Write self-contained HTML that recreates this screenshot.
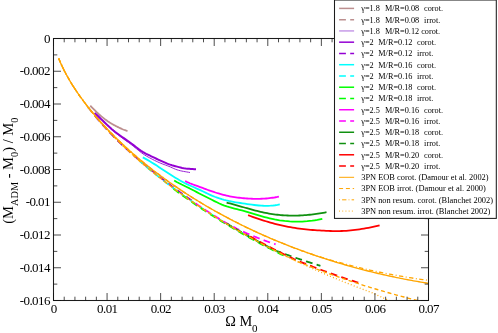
<!DOCTYPE html>
<html><head><meta charset="utf-8"><title>Binding energy</title>
<style>
html,body{margin:0;padding:0;background:#fff;}
body{width:498px;height:333px;overflow:hidden;position:relative;font-family:"Liberation Serif",serif;}
svg text{font-family:"Liberation Serif",serif;}
</style></head><body>
<svg width="498" height="333" viewBox="0 0 498 333" style="position:absolute;left:0;top:0;will-change:transform">
<rect width="498" height="333" fill="#fff"/>
<defs><clipPath id="cp"><rect x="53.5" y="38.5" width="375.0" height="262.0"/></clipPath></defs>
<g clip-path="url(#cp)" fill="none" stroke-linecap="butt" stroke-linejoin="round">
<path d="M90.30,105.70 L90.93,106.36 L91.56,107.02 L92.20,107.67 L92.83,108.32 L93.46,108.96 L94.09,109.59 L94.73,110.22 L95.36,110.84 L95.99,111.45 L96.62,112.06 L97.25,112.65 L97.89,113.24 L98.52,113.83 L99.15,114.40 L99.78,114.97 L100.42,115.52 L101.05,116.07 L101.68,116.61 L102.31,117.14 L102.94,117.66 L103.58,118.17 L104.21,118.67 L104.84,119.16 L105.47,119.63 L106.11,120.10 L106.74,120.56 L107.37,121.01 L108.00,121.44 L108.63,121.87 L109.27,122.28 L109.90,122.68 L110.53,123.07 L111.16,123.45 L111.79,123.82 L112.43,124.18 L113.06,124.53 L113.69,124.87 L114.32,125.21 L114.96,125.55 L115.59,125.88 L116.22,126.21 L116.85,126.53 L117.48,126.85 L118.12,127.17 L118.75,127.48 L119.38,127.79 L120.01,128.09 L120.65,128.39 L121.28,128.68 L121.91,128.96 L122.54,129.23 L123.17,129.50 L123.81,129.75 L124.44,129.99 L125.07,130.22 L125.70,130.44 L126.34,130.64 L126.97,130.83 L127.60,131.00" stroke="#bc8f8f" stroke-width="1.8"/>
<path d="M88.00,107.22 L88.47,107.82 L88.94,108.42 L89.41,109.01 L89.87,109.60 L90.34,110.19 L90.81,110.77 L91.28,111.35 L91.75,111.93 L92.22,112.51 L92.68,113.08 L93.15,113.65 L93.62,114.22 L94.09,114.78 L94.56,115.34 L95.03,115.90 L95.49,116.46 L95.96,117.02 L96.43,117.57 L96.90,118.12 L97.37,118.67 L97.84,119.21 L98.30,119.75 L98.77,120.30 L99.24,120.83 L99.71,121.37 L100.18,121.90 L100.65,122.44 L101.11,122.97 L101.58,123.49 L102.05,124.02 L102.52,124.54 L102.99,125.06 L103.46,125.58 L103.92,126.10 L104.39,126.62 L104.86,127.13 L105.33,127.64 L105.80,128.15 L106.27,128.66 L106.73,129.17 L107.20,129.67 L107.67,130.17 L108.14,130.68 L108.61,131.17 L109.08,131.67 L109.54,132.17 L110.01,132.66 L110.48,133.15 L110.95,133.64 L111.42,134.13 L111.89,134.62 L112.35,135.10 L112.82,135.59 L113.29,136.07 L113.76,136.55 L114.23,137.03 L114.70,137.51 L115.16,137.98 L115.63,138.46 L116.10,138.93 L116.57,139.40 L117.04,139.87 L117.51,140.34 L117.97,140.81 L118.44,141.27 L118.91,141.74 L119.38,142.20 L119.85,142.66 L120.32,143.12 L120.78,143.58 L121.25,144.04 L121.72,144.49 L122.19,144.95 L122.66,145.40 L123.13,145.85 L123.59,146.30 L124.06,146.75 L124.53,147.20 L125.00,147.64" stroke="#bc8f8f" stroke-width="1.8" stroke-dasharray="6.8,4.3"/>
<path d="M94.60,113.50 L96.22,114.92 L97.83,116.39 L99.45,117.92 L101.07,119.47 L102.68,121.05 L104.30,122.63 L105.92,124.22 L107.54,125.78 L109.15,127.32 L110.77,128.82 L112.39,130.26 L114.00,131.65 L115.62,132.98 L117.24,134.26 L118.85,135.50 L120.47,136.71 L122.09,137.90 L123.71,139.07 L125.32,140.24 L126.94,141.40 L128.56,142.57 L130.17,143.77 L131.79,144.99 L133.41,146.25 L135.02,147.55 L136.64,148.89 L138.26,150.22 L139.87,151.53 L141.49,152.78 L143.11,153.94 L144.73,155.01 L146.34,156.00 L147.96,156.92 L149.58,157.81 L151.19,158.67 L152.81,159.51 L154.43,160.33 L156.04,161.12 L157.66,161.88 L159.28,162.61 L160.89,163.30 L162.51,163.94 L164.13,164.55 L165.75,165.14 L167.36,165.74 L168.98,166.37 L170.60,167.06 L172.21,167.81 L173.83,168.56 L175.45,169.24 L177.06,169.82 L178.68,170.31 L180.30,170.73 L181.92,171.09 L183.53,171.40 L185.15,171.68 L186.77,171.95 L188.38,172.22 L190.00,172.50" stroke="#9a20d6" stroke-width="1.0"/>
<path d="M94.60,113.00 L96.32,114.51 L98.04,116.08 L99.76,117.71 L101.47,119.37 L103.19,121.05 L104.91,122.73 L106.63,124.39 L108.35,126.03 L110.07,127.62 L111.79,129.14 L113.51,130.59 L115.22,131.96 L116.94,133.27 L118.66,134.54 L120.38,135.76 L122.10,136.97 L123.82,138.16 L125.54,139.36 L127.25,140.57 L128.97,141.80 L130.69,143.04 L132.41,144.32 L134.13,145.62 L135.85,146.96 L137.57,148.29 L139.28,149.59 L141.00,150.81 L142.72,151.93 L144.44,152.92 L146.16,153.82 L147.88,154.66 L149.60,155.47 L151.32,156.28 L153.03,157.09 L154.75,157.91 L156.47,158.73 L158.19,159.54 L159.91,160.35 L161.63,161.15 L163.35,161.93 L165.06,162.68 L166.78,163.40 L168.50,164.07 L170.22,164.67 L171.94,165.21 L173.66,165.70 L175.38,166.18 L177.09,166.64 L178.81,167.10 L180.53,167.52 L182.25,167.90 L183.97,168.22 L185.69,168.47 L187.41,168.68 L189.13,168.83 L190.84,168.96 L192.56,169.05 L194.28,169.13 L196.00,169.20" stroke="#9400d3" stroke-width="2.0"/>
<path d="M94.50,115.28 L95.75,116.76 L96.99,118.23 L98.24,119.68 L99.49,121.12 L100.73,122.54 L101.98,123.94 L103.23,125.33 L104.47,126.71 L105.72,128.07 L106.97,129.42 L108.22,130.76 L109.46,132.08 L110.71,133.39 L111.96,134.69 L113.20,135.98 L114.45,137.26 L115.70,138.52 L116.94,139.78 L118.19,141.02 L119.44,142.26 L120.68,143.46 L121.93,144.64 L123.18,145.81 L124.42,146.98 L125.67,148.13 L126.92,149.27 L128.16,150.41 L129.41,151.54 L130.66,152.65 L131.91,153.76 L133.15,154.87 L134.40,155.96 L135.65,157.04 L136.89,158.12 L138.14,159.19 L139.39,160.26 L140.63,161.31 L141.88,162.36 L143.13,163.40 L144.37,164.44 L145.62,165.46 L146.87,166.48 L148.11,167.50 L149.36,168.51 L150.61,169.52 L151.85,170.55 L153.10,171.57 L154.35,172.59 L155.59,173.60 L156.84,174.60 L158.09,175.60 L159.34,176.59 L160.58,177.58 L161.83,178.56 L163.08,179.53 L164.32,180.50 L165.57,181.46 L166.82,182.42 L168.06,183.37 L169.31,184.32 L170.56,185.26 L171.80,186.20 L173.05,187.13 L174.30,188.06 L175.54,188.98 L176.79,189.90 L178.04,190.81 L179.28,191.72 L180.53,192.62 L181.78,193.52 L183.03,194.41 L184.27,195.30 L185.52,196.18 L186.77,197.06 L188.01,197.94 L189.26,198.81 L190.51,199.67 L191.75,200.53 L193.00,201.39" stroke="#9400d3" stroke-width="1.8" stroke-dasharray="6.8,4.3" stroke-dashoffset="10.35"/>
<path d="M142.80,157.40 L145.12,158.62 L147.44,159.91 L149.77,161.26 L152.09,162.67 L154.41,164.12 L156.73,165.61 L159.05,167.13 L161.38,168.66 L163.70,170.20 L166.02,171.74 L168.34,173.27 L170.66,174.77 L172.99,176.25 L175.31,177.69 L177.63,179.09 L179.95,180.44 L182.27,181.73 L184.60,182.96 L186.92,184.13 L189.24,185.23 L191.56,186.28 L193.88,187.29 L196.21,188.30 L198.53,189.33 L200.85,190.40 L203.17,191.52 L205.49,192.65 L207.82,193.77 L210.14,194.83 L212.46,195.84 L214.78,196.78 L217.11,197.65 L219.43,198.46 L221.75,199.20 L224.07,199.87 L226.39,200.46 L228.72,200.99 L231.04,201.46 L233.36,201.89 L235.68,202.28 L238.00,202.65 L240.33,203.00 L242.65,203.35 L244.97,203.71 L247.29,204.05 L249.61,204.39 L251.94,204.71 L254.26,205.00 L256.58,205.26 L258.90,205.48 L261.22,205.65 L263.55,205.77 L265.87,205.82 L268.19,205.81 L270.51,205.71 L272.83,205.53 L275.16,205.25 L277.48,204.88 L279.80,204.40" stroke="#00ffff" stroke-width="1.8"/>
<path d="M140.00,161.31 L141.75,162.83 L143.49,164.33 L145.24,165.82 L146.99,167.30 L148.73,168.77 L150.48,170.22 L152.23,171.66 L153.97,173.09 L155.72,174.50 L157.47,175.90 L159.22,177.29 L160.96,178.68 L162.71,180.04 L164.46,181.40 L166.20,182.75 L167.95,184.09 L169.70,185.41 L171.44,186.73 L173.19,188.04 L174.94,189.33 L176.68,190.62 L178.43,191.90 L180.18,193.16 L181.92,194.42 L183.67,195.67 L185.42,196.91 L187.16,198.14 L188.91,199.36 L190.66,200.58 L192.41,201.78 L194.15,202.98 L195.90,204.17 L197.65,205.35 L199.39,206.52 L201.14,207.68 L202.89,208.84 L204.63,209.99 L206.38,211.13 L208.13,212.26 L209.87,213.39 L211.62,214.50 L213.37,215.61 L215.11,216.72 L216.86,217.81 L218.61,218.90 L220.35,219.99 L222.10,221.06 L223.85,222.13 L225.59,223.19 L227.34,224.24 L229.09,225.29 L230.84,226.33 L232.58,227.37 L234.33,228.40 L236.08,229.42 L237.82,230.43 L239.57,231.44 L241.32,232.44 L243.06,233.44 L244.81,234.43 L246.56,235.42 L248.30,236.39 L250.05,237.37 L251.80,238.33 L253.54,239.29 L255.29,240.25 L257.04,241.20 L258.78,242.14 L260.53,243.08 L262.28,244.01 L264.03,244.93 L265.77,245.85 L267.52,246.77 L269.27,247.68 L271.01,248.58 L272.76,249.48 L274.51,250.38 L276.25,251.26 L278.00,252.15" stroke="#00ffff" stroke-width="1.8" stroke-dasharray="6.8,4.3" stroke-dashoffset="3"/>
<path d="M174.20,180.40 L176.71,181.94 L179.22,183.30 L181.73,184.56 L184.24,185.75 L186.75,186.94 L189.26,188.18 L191.77,189.49 L194.28,190.82 L196.79,192.16 L199.30,193.47 L201.81,194.75 L204.32,196.01 L206.83,197.26 L209.34,198.53 L211.85,199.81 L214.36,201.08 L216.87,202.31 L219.38,203.49 L221.89,204.59 L224.40,205.58 L226.91,206.45 L229.42,207.22 L231.93,207.91 L234.44,208.56 L236.95,209.17 L239.46,209.78 L241.97,210.42 L244.48,211.09 L246.99,211.80 L249.51,212.54 L252.02,213.31 L254.53,214.08 L257.04,214.85 L259.55,215.61 L262.06,216.36 L264.57,217.07 L267.08,217.74 L269.59,218.36 L272.10,218.93 L274.61,219.45 L277.12,219.91 L279.63,220.32 L282.14,220.67 L284.65,220.97 L287.16,221.21 L289.67,221.41 L292.18,221.54 L294.69,221.62 L297.20,221.65 L299.71,221.62 L302.22,221.54 L304.73,221.40 L307.24,221.21 L309.75,220.96 L312.26,220.66 L314.77,220.30 L317.28,219.89 L319.79,219.42 L322.30,218.90" stroke="#00ff00" stroke-width="1.8"/>
<path d="M172.00,187.75 L173.42,188.81 L174.84,189.86 L176.25,190.90 L177.67,191.94 L179.09,192.97 L180.51,194.00 L181.92,195.02 L183.34,196.04 L184.76,197.04 L186.18,198.05 L187.59,199.04 L189.01,200.03 L190.43,201.02 L191.85,202.00 L193.27,202.97 L194.68,203.94 L196.10,204.90 L197.52,205.86 L198.94,206.81 L200.35,207.76 L201.77,208.70 L203.19,209.64 L204.61,210.57 L206.03,211.50 L207.44,212.42 L208.86,213.33 L210.28,214.25 L211.70,215.15 L213.11,216.05 L214.53,216.95 L215.95,217.84 L217.37,218.73 L218.78,219.61 L220.20,220.49 L221.62,221.36 L223.04,222.23 L224.46,223.10 L225.87,223.96 L227.29,224.81 L228.71,225.66 L230.13,226.51 L231.54,227.35 L232.96,228.19 L234.38,229.03 L235.80,229.85 L237.22,230.68 L238.63,231.50 L240.05,232.32 L241.47,233.13 L242.89,233.94 L244.30,234.74 L245.72,235.55 L247.14,236.34 L248.56,237.13 L249.97,237.92 L251.39,238.71 L252.81,239.49 L254.23,240.27 L255.65,241.04 L257.06,241.81 L258.48,242.58 L259.90,243.34 L261.32,244.10 L262.73,244.85 L264.15,245.60 L265.57,246.35 L266.99,247.09 L268.41,247.83 L269.82,248.57 L271.24,249.30 L272.66,250.03 L274.08,250.76 L275.49,251.48 L276.91,252.20 L278.33,252.91 L279.75,253.62 L281.16,254.33 L282.58,255.04 L284.00,255.74" stroke="#00ff00" stroke-width="1.8" stroke-dasharray="6.8,4.3" stroke-dashoffset="9.19"/>
<path d="M185.10,181.00 L186.69,181.81 L188.28,182.55 L189.87,183.25 L191.46,183.89 L193.05,184.50 L194.64,185.09 L196.23,185.66 L197.82,186.22 L199.41,186.79 L201.00,187.36 L202.59,187.95 L204.18,188.54 L205.77,189.14 L207.36,189.73 L208.95,190.31 L210.54,190.87 L212.13,191.43 L213.72,191.97 L215.31,192.49 L216.90,192.99 L218.49,193.48 L220.08,193.95 L221.67,194.39 L223.26,194.82 L224.85,195.22 L226.44,195.60 L228.03,195.95 L229.62,196.28 L231.21,196.58 L232.79,196.86 L234.38,197.12 L235.97,197.35 L237.56,197.57 L239.15,197.76 L240.74,197.94 L242.33,198.10 L243.92,198.24 L245.51,198.37 L247.10,198.49 L248.69,198.58 L250.28,198.67 L251.87,198.74 L253.46,198.79 L255.05,198.82 L256.64,198.84 L258.23,198.83 L259.82,198.80 L261.41,198.76 L263.00,198.69 L264.59,198.60 L266.18,198.48 L267.77,198.34 L269.36,198.17 L270.95,197.98 L272.54,197.76 L274.13,197.52 L275.72,197.24 L277.31,196.94 L278.90,196.60" stroke="#ff00ff" stroke-width="1.8"/>
<path d="M194.00,202.37 L195.03,203.08 L196.07,203.78 L197.10,204.48 L198.13,205.17 L199.16,205.87 L200.20,206.56 L201.23,207.24 L202.26,207.93 L203.30,208.61 L204.33,209.29 L205.36,209.96 L206.39,210.64 L207.43,211.31 L208.46,211.98 L209.49,212.64 L210.53,213.31 L211.56,213.97 L212.59,214.62 L213.63,215.28 L214.66,215.93 L215.69,216.58 L216.72,217.23 L217.76,217.87 L218.79,218.52 L219.82,219.16 L220.86,219.79 L221.89,220.43 L222.92,221.06 L223.95,221.69 L224.99,222.32 L226.02,222.93 L227.05,223.52 L228.09,224.10 L229.12,224.67 L230.15,225.23 L231.18,225.78 L232.22,226.32 L233.25,226.86 L234.28,227.39 L235.32,227.91 L236.35,228.43 L237.38,228.94 L238.42,229.44 L239.45,229.94 L240.48,230.43 L241.51,230.92 L242.55,231.40 L243.58,231.88 L244.61,232.35 L245.65,232.81 L246.68,233.27 L247.71,233.73 L248.74,234.18 L249.78,234.62 L250.81,235.06 L251.84,235.50 L252.88,235.93 L253.91,236.35 L254.94,236.78 L255.97,237.19 L257.01,237.61 L258.04,238.01 L259.07,238.42 L260.11,238.82 L261.14,239.21 L262.17,239.61 L263.21,239.99 L264.24,240.38 L265.27,240.75 L266.30,241.13 L267.34,241.50 L268.37,241.87 L269.40,242.23 L270.44,242.59 L271.47,242.94 L272.50,243.29 L273.53,243.64 L274.57,243.98 L275.60,244.32" stroke="#ff00ff" stroke-width="1.8" stroke-dasharray="6.8,4.3" stroke-dashoffset="9.33"/>
<path d="M226.60,202.60 L228.29,203.03 L229.99,203.47 L231.68,203.92 L233.37,204.38 L235.07,204.85 L236.76,205.32 L238.45,205.80 L240.15,206.28 L241.84,206.77 L243.53,207.25 L245.23,207.74 L246.92,208.22 L248.61,208.69 L250.31,209.17 L252.00,209.63 L253.69,210.09 L255.38,210.53 L257.08,210.97 L258.77,211.39 L260.46,211.79 L262.16,212.18 L263.85,212.55 L265.54,212.91 L267.24,213.24 L268.93,213.55 L270.62,213.84 L272.32,214.10 L274.01,214.34 L275.70,214.56 L277.40,214.76 L279.09,214.94 L280.78,215.10 L282.48,215.23 L284.17,215.35 L285.86,215.44 L287.56,215.51 L289.25,215.57 L290.94,215.60 L292.64,215.61 L294.33,215.61 L296.02,215.59 L297.72,215.54 L299.41,215.48 L301.10,215.40 L302.79,215.31 L304.49,215.19 L306.18,215.06 L307.87,214.91 L309.57,214.74 L311.26,214.56 L312.95,214.36 L314.65,214.14 L316.34,213.91 L318.03,213.66 L319.73,213.40 L321.42,213.12 L323.11,212.83 L324.81,212.52 L326.50,212.20" stroke="#109010" stroke-width="1.8"/>
<path d="M226.00,223.13 L227.19,223.86 L228.39,224.57 L229.58,225.29 L230.78,226.00 L231.97,226.71 L233.17,227.41 L234.36,228.12 L235.56,228.82 L236.75,229.51 L237.95,230.21 L239.14,230.90 L240.34,231.58 L241.53,232.27 L242.73,232.95 L243.92,233.63 L245.12,234.31 L246.31,234.98 L247.51,235.65 L248.70,236.32 L249.90,236.98 L251.09,237.64 L252.29,238.30 L253.48,238.96 L254.68,239.61 L255.87,240.26 L257.07,240.91 L258.26,241.56 L259.46,242.20 L260.65,242.84 L261.85,243.48 L263.04,244.11 L264.24,244.75 L265.43,245.38 L266.63,246.00 L267.82,246.63 L269.02,247.25 L270.21,247.87 L271.41,248.49 L272.60,249.10 L273.80,249.71 L274.99,250.32 L276.19,250.78 L277.38,251.22 L278.58,251.67 L279.77,252.12 L280.97,252.56 L282.16,253.00 L283.36,253.43 L284.55,253.87 L285.75,254.30 L286.94,254.73 L288.14,255.16 L289.33,255.58 L290.53,256.01 L291.72,256.43 L292.92,256.85 L294.11,257.26 L295.31,257.67 L296.50,258.09 L297.70,258.49 L298.89,258.90 L300.09,259.31 L301.28,259.71 L302.48,260.11 L303.67,260.51 L304.87,260.90 L306.06,261.29 L307.26,261.69 L308.45,262.07 L309.65,262.46 L310.84,262.84 L312.04,263.23 L313.23,263.61 L314.43,263.99 L315.62,264.36 L316.82,264.73 L318.01,265.11 L319.21,265.48 L320.40,265.84" stroke="#109010" stroke-width="1.8" stroke-dasharray="6.8,4.3" stroke-dashoffset="10.95"/>
<path d="M248.10,215.20 L250.33,216.02 L252.56,216.82 L254.79,217.61 L257.02,218.38 L259.24,219.13 L261.47,219.86 L263.70,220.56 L265.93,221.25 L268.16,221.92 L270.39,222.56 L272.62,223.18 L274.85,223.78 L277.07,224.35 L279.30,224.90 L281.53,225.42 L283.76,225.91 L285.99,226.38 L288.22,226.82 L290.45,227.23 L292.68,227.61 L294.91,227.97 L297.13,228.31 L299.36,228.62 L301.59,228.90 L303.82,229.16 L306.05,229.39 L308.28,229.61 L310.51,229.80 L312.74,229.98 L314.96,230.14 L317.19,230.29 L319.42,230.43 L321.65,230.56 L323.88,230.69 L326.11,230.80 L328.34,230.91 L330.57,230.99 L332.79,231.06 L335.02,231.10 L337.25,231.11 L339.48,231.08 L341.71,231.02 L343.94,230.92 L346.17,230.78 L348.40,230.62 L350.63,230.42 L352.85,230.19 L355.08,229.93 L357.31,229.64 L359.54,229.32 L361.77,228.97 L364.00,228.60 L366.23,228.20 L368.46,227.77 L370.68,227.32 L372.91,226.85 L375.14,226.35 L377.37,225.84 L379.60,225.30" stroke="#ff0000" stroke-width="1.8"/>
<path d="M246.00,234.20 L247.42,235.00 L248.85,235.80 L250.27,236.59 L251.70,237.38 L253.12,238.16 L254.54,238.94 L255.97,239.72 L257.39,240.49 L258.82,241.26 L260.24,242.02 L261.66,242.78 L263.09,243.54 L264.51,244.29 L265.94,245.04 L267.36,245.79 L268.78,246.53 L270.21,247.27 L271.63,248.00 L273.06,248.73 L274.48,249.46 L275.91,250.19 L277.33,250.91 L278.75,251.63 L280.18,252.34 L281.60,253.05 L283.03,253.76 L284.45,254.46 L285.87,255.16 L287.30,255.86 L288.72,256.55 L290.15,257.24 L291.57,257.93 L292.99,258.61 L294.42,259.29 L295.84,259.92 L297.27,260.50 L298.69,261.08 L300.11,261.66 L301.54,262.24 L302.96,262.81 L304.39,263.38 L305.81,263.95 L307.23,264.51 L308.66,265.07 L310.08,265.63 L311.51,266.18 L312.93,266.73 L314.35,267.28 L315.78,267.82 L317.20,268.37 L318.63,268.90 L320.05,269.44 L321.47,269.97 L322.90,270.50 L324.32,271.03 L325.75,271.55 L327.17,272.07 L328.59,272.59 L330.02,273.10 L331.44,273.62 L332.87,274.13 L334.29,274.63 L335.72,275.14 L337.14,275.64 L338.56,276.13 L339.99,276.63 L341.41,277.12 L342.84,277.61 L344.26,278.10 L345.68,278.58 L347.11,279.06 L348.53,279.54 L349.96,280.01 L351.38,280.49 L352.80,280.96 L354.23,281.42 L355.65,281.89 L357.08,282.35 L358.50,282.81" stroke="#ff0000" stroke-width="1.8" stroke-dasharray="6.8,4.3" stroke-dashoffset="6.33"/>
<path d="M58.70,58.40 L60.56,62.85 L62.41,66.90 L64.27,70.66 L66.13,74.19 L67.99,77.54 L69.84,80.74 L71.70,83.81 L73.56,86.77 L75.42,89.62 L77.27,92.38 L79.13,95.06 L80.99,97.67 L82.84,100.21 L84.70,102.69 L86.56,105.11 L88.42,107.48 L90.27,109.79 L92.13,112.06 L93.99,114.29 L95.85,116.47 L97.70,118.61 L99.56,120.72 L101.42,122.79 L103.27,124.82 L105.13,126.83 L106.99,128.80 L108.85,130.74 L110.70,132.65 L112.56,134.53 L114.42,136.39 L116.28,138.22 L118.13,140.03 L119.99,141.81 L121.85,143.57 L123.71,145.30 L125.56,147.01 L127.42,148.71 L129.28,150.38 L131.13,152.03 L132.99,153.66 L134.85,155.27 L136.71,156.86 L138.56,158.44 L140.42,159.99 L142.28,161.53 L144.14,163.05 L145.99,164.56 L147.85,166.05 L149.71,167.52 L151.56,168.98 L153.42,170.42 L155.28,171.85 L157.14,173.26 L158.99,174.66 L160.85,176.04 L162.71,177.41 L164.57,178.76 L166.42,180.10 L168.28,181.43 L170.14,182.75 L171.99,184.05 L173.85,185.34 L175.71,186.62 L177.57,187.88 L179.42,189.13 L181.28,190.37 L183.14,191.60 L185.00,192.82 L186.85,194.03 L188.71,195.22 L190.57,196.40 L192.42,197.57 L194.28,198.74 L196.14,199.89 L198.00,201.03 L199.85,202.16 L201.71,203.28 L203.57,204.38 L205.43,205.48 L207.28,206.57 L209.14,207.65 L211.00,208.72 L212.85,209.78 L214.71,210.83 L216.57,211.87 L218.43,212.90 L220.28,213.92 L222.14,214.93 L224.00,215.94 L225.86,216.93 L227.71,217.92 L229.57,218.89 L231.43,219.86 L233.28,220.82 L235.14,221.77 L237.00,222.71 L238.86,223.65 L240.71,224.57 L242.57,225.49 L244.43,226.40 L246.29,227.30 L248.14,228.19 L250.00,229.08 L251.86,229.95 L253.72,230.82 L255.57,231.68 L257.43,232.53 L259.29,233.38 L261.14,234.22 L263.00,235.05 L264.86,235.87 L266.72,236.68 L268.57,237.49 L270.43,238.29 L272.29,239.08 L274.15,239.87 L276.00,240.65 L277.86,241.42 L279.72,242.18 L281.57,242.94 L283.43,243.69 L285.29,244.43 L287.15,245.17 L289.00,245.89 L290.86,246.62 L292.72,247.33 L294.58,248.04 L296.43,248.74 L298.29,249.44 L300.15,250.13 L302.00,250.81 L303.86,251.48 L305.72,252.15 L307.58,252.81 L309.43,253.47 L311.29,254.12 L313.15,254.76 L315.01,255.40 L316.86,256.03 L318.72,256.65 L320.58,257.27 L322.43,257.88 L324.29,258.48 L326.15,259.08 L328.01,259.68 L329.86,260.26 L331.72,260.84 L333.58,261.42 L335.44,261.99 L337.29,262.55 L339.15,263.11 L341.01,263.66 L342.86,264.20 L344.72,264.74 L346.58,265.27 L348.44,265.80 L350.29,266.32 L352.15,266.84 L354.01,267.35 L355.87,267.85 L357.72,268.35 L359.58,268.84 L361.44,269.33 L363.29,269.81 L365.15,270.29 L367.01,270.76 L368.87,271.23 L370.72,271.69 L372.58,272.14 L374.44,272.59 L376.30,273.03 L378.15,273.47 L380.01,273.90 L381.87,274.33 L383.73,274.75 L385.58,275.17 L387.44,275.58 L389.30,275.99 L391.15,276.39 L393.01,276.78 L394.87,277.17 L396.73,277.56 L398.58,277.94 L400.44,278.31 L402.30,278.68 L404.16,279.05 L406.01,279.41 L407.87,279.76 L409.73,280.11 L411.58,280.46 L413.44,280.80 L415.30,281.13 L417.16,281.46 L419.01,281.78 L420.87,282.10 L422.73,282.42 L424.59,282.73 L426.44,283.03 L428.30,283.33" stroke="#ffa500" stroke-width="1.35"/>
<path d="M58.70,58.41 L61.13,64.15 L63.56,69.28 L65.99,73.98 L68.43,78.37 L70.86,82.50 L73.29,86.43 L75.72,90.19 L78.15,93.80 L80.58,97.28 L83.02,100.64 L85.45,103.90 L87.88,107.07 L90.31,110.15 L92.74,113.15 L95.17,116.08 L97.60,118.94 L100.04,121.74 L102.47,124.49 L104.90,127.17 L107.33,129.81 L109.76,132.40 L112.19,134.94 L114.63,137.44 L117.06,139.89 L119.49,142.31 L121.92,144.68 L124.35,147.03 L126.78,149.33 L129.21,151.60 L131.65,153.84 L134.08,156.05 L136.51,158.23 L138.94,160.38 L141.37,162.50 L143.80,164.60 L146.24,166.67 L148.67,168.71 L151.10,170.73 L153.53,172.72 L155.96,174.69 L158.39,176.64 L160.82,178.57 L163.26,180.47 L165.69,182.35 L168.12,184.22 L170.55,186.06 L172.98,187.88 L175.41,189.68 L177.85,191.47 L180.28,193.23 L182.71,194.98 L185.14,196.71 L187.57,198.43 L190.00,200.12 L192.43,201.80 L194.87,203.47 L197.30,205.11 L199.73,206.74 L202.16,208.36 L204.59,209.96 L207.02,211.55 L209.46,213.12 L211.89,214.67 L214.32,216.22 L216.75,217.75 L219.18,219.26 L221.61,220.76 L224.04,222.25 L226.48,223.72 L228.91,225.18 L231.34,226.63 L233.77,228.07 L236.20,229.49 L238.63,230.90 L241.07,232.30 L243.50,233.69 L245.93,235.06 L248.36,236.43 L250.79,237.78 L253.22,239.12 L255.66,240.45 L258.09,241.76 L260.52,243.07 L262.95,244.36 L265.38,245.65 L267.81,246.92 L270.24,248.19 L272.68,249.44 L275.11,250.68 L277.54,251.91 L279.97,253.14 L282.40,254.35 L284.83,255.55 L287.27,256.74 L289.70,257.92 L292.13,259.10 L294.56,260.26 L296.99,261.29 L299.42,262.28 L301.85,263.27 L304.29,264.24 L306.72,265.21 L309.15,266.16 L311.58,267.11 L314.01,268.05 L316.44,268.98 L318.88,269.90 L321.31,270.81 L323.74,271.71 L326.17,272.61 L328.60,273.49 L331.03,274.37 L333.46,275.24 L335.90,276.10 L338.33,276.95 L340.76,277.80 L343.19,278.63 L345.62,279.46 L348.05,280.28 L350.49,281.09 L352.92,281.89 L355.35,282.69 L357.78,283.48 L360.21,284.26 L362.64,285.03 L365.07,285.79 L367.51,286.55 L369.94,287.30 L372.37,288.04 L374.80,288.77 L377.23,289.50 L379.66,290.22 L382.10,290.93 L384.53,291.63 L386.96,292.33 L389.39,293.02 L391.82,293.70 L394.25,294.38 L396.68,295.05 L399.12,295.71 L401.55,296.36 L403.98,297.01 L406.41,297.65 L408.84,298.28 L411.27,298.90 L413.71,299.52 L416.14,300.13 L418.57,300.74 L421.00,301.34" stroke="#ffa500" stroke-width="1.35" stroke-dasharray="4,2.8"/>
<path d="M58.70,58.40 L60.56,62.85 L62.41,66.90 L64.27,70.66 L66.13,74.19 L67.99,77.54 L69.84,80.74 L71.70,83.81 L73.56,86.77 L75.42,89.62 L77.27,92.38 L79.13,95.06 L80.99,97.67 L82.84,100.21 L84.70,102.69 L86.56,105.11 L88.42,107.48 L90.27,109.79 L92.13,112.06 L93.99,114.29 L95.85,116.47 L97.70,118.61 L99.56,120.72 L101.42,122.79 L103.27,124.82 L105.13,126.83 L106.99,128.80 L108.85,130.74 L110.70,132.65 L112.56,134.53 L114.42,136.39 L116.28,138.22 L118.13,140.03 L119.99,141.81 L121.85,143.57 L123.71,145.30 L125.56,147.01 L127.42,148.71 L129.28,150.38 L131.13,152.03 L132.99,153.66 L134.85,155.27 L136.71,156.86 L138.56,158.44 L140.42,159.99 L142.28,161.53 L144.14,163.05 L145.99,164.56 L147.85,166.05 L149.71,167.52 L151.56,168.98 L153.42,170.42 L155.28,171.85 L157.14,173.26 L158.99,174.66 L160.85,176.04 L162.71,177.41 L164.57,178.76 L166.42,180.10 L168.28,181.43 L170.14,182.75 L171.99,184.05 L173.85,185.34 L175.71,186.62 L177.57,187.88 L179.42,189.13 L181.28,190.37 L183.14,191.60 L185.00,192.82 L186.85,194.03 L188.71,195.22 L190.57,196.40 L192.42,197.57 L194.28,198.74 L196.14,199.89 L198.00,201.03 L199.85,202.16 L201.71,203.28 L203.57,204.38 L205.43,205.48 L207.28,206.57 L209.14,207.65 L211.00,208.72 L212.85,209.78 L214.71,210.83 L216.57,211.87 L218.43,212.90 L220.28,213.92 L222.14,214.93 L224.00,215.94 L225.86,216.93 L227.71,217.92 L229.57,218.89 L231.43,219.86 L233.28,220.82 L235.14,221.77 L237.00,222.71 L238.86,223.65 L240.71,224.57 L242.57,225.49 L244.43,226.40 L246.29,227.30 L248.14,228.19 L250.00,229.08 L251.86,229.95 L253.72,230.82 L255.57,231.68 L257.43,232.53 L259.29,233.38 L261.14,234.22 L263.00,235.05 L264.86,235.87 L266.72,236.68 L268.57,237.49 L270.43,238.29 L272.29,239.08 L274.15,239.87 L276.00,240.65 L277.86,241.42 L279.72,242.18 L281.57,242.94 L283.43,243.69 L285.29,244.43 L287.15,245.17 L289.00,245.89 L290.86,246.62 L292.72,247.33 L294.58,248.04 L296.43,248.74 L298.29,249.44 L300.15,250.12 L302.00,250.79 L303.86,251.45 L305.72,252.10 L307.58,252.74 L309.43,253.37 L311.29,253.99 L313.15,254.60 L315.01,255.21 L316.86,255.81 L318.72,256.40 L320.58,256.99 L322.43,257.57 L324.29,258.14 L326.15,258.70 L328.01,259.26 L329.86,259.81 L331.72,260.35 L333.58,260.89 L335.44,261.42 L337.29,261.94 L339.15,262.46 L341.01,262.97 L342.86,263.48 L344.72,263.98 L346.58,264.47 L348.44,264.95 L350.29,265.43 L352.15,265.90 L354.01,266.37 L355.87,266.83 L357.72,267.29 L359.58,267.73 L361.44,268.18 L363.29,268.61 L365.15,269.04 L367.01,269.47 L368.87,269.89 L370.72,270.30 L372.58,270.71 L374.44,271.11 L376.30,271.50 L378.15,271.89 L380.01,272.27 L381.87,272.65 L383.73,273.03 L385.58,273.39 L387.44,273.75 L389.30,274.11 L391.15,274.46 L393.01,274.80 L394.87,275.14 L396.73,275.47 L398.58,275.80 L400.44,276.13 L402.30,276.44 L404.16,276.75 L406.01,277.06 L407.87,277.36 L409.73,277.66 L411.58,277.95 L413.44,278.23 L415.30,278.51 L417.16,278.79 L419.01,279.05 L420.87,279.32 L422.73,279.58 L424.59,279.83 L426.44,280.08 L428.30,280.32" stroke="#ffa500" stroke-width="1.35" stroke-dasharray="4.3,2.5,0.9,2.5"/>
<path d="M58.70,58.41 L60.93,63.70 L63.16,68.46 L65.39,72.84 L67.62,76.94 L69.85,80.82 L72.08,84.50 L74.31,88.03 L76.54,91.43 L78.77,94.70 L81.00,97.86 L83.23,100.94 L85.46,103.92 L87.69,106.83 L89.92,109.66 L92.15,112.43 L94.38,115.14 L96.61,117.78 L98.84,120.38 L101.07,122.92 L103.30,125.42 L105.53,127.87 L107.76,130.27 L109.99,132.64 L112.22,134.97 L114.46,137.26 L116.69,139.52 L118.92,141.74 L121.15,143.93 L123.38,146.09 L125.61,148.22 L127.84,150.32 L130.07,152.39 L132.30,154.44 L134.53,156.46 L136.76,158.45 L138.99,160.42 L141.22,162.37 L143.45,164.29 L145.68,166.20 L147.91,168.08 L150.14,169.93 L152.37,171.77 L154.60,173.59 L156.83,175.39 L159.06,177.17 L161.29,178.93 L163.52,180.68 L165.75,182.40 L167.98,184.11 L170.21,185.80 L172.44,187.48 L174.67,189.13 L176.90,190.78 L179.13,192.40 L181.36,194.02 L183.59,195.61 L185.82,197.20 L188.05,198.76 L190.28,200.32 L192.51,201.86 L194.74,203.38 L196.97,204.89 L199.20,206.39 L201.43,207.88 L203.66,209.35 L205.89,210.81 L208.12,212.26 L210.35,213.69 L212.58,215.12 L214.81,216.53 L217.04,217.93 L219.27,219.32 L221.50,220.69 L223.73,222.06 L225.97,223.41 L228.20,224.76 L230.43,226.09 L232.66,227.41 L234.89,228.72 L237.12,230.02 L239.35,231.31 L241.58,232.59 L243.81,233.86 L246.04,235.12 L248.27,236.37 L250.50,237.61 L252.73,238.84 L254.96,240.07 L257.19,241.28 L259.42,242.48 L261.65,243.67 L263.88,244.86 L266.11,246.03 L268.34,247.20 L270.57,248.35 L272.80,249.50 L275.03,250.64 L277.26,251.77 L279.49,252.89 L281.72,254.01 L283.95,255.11 L286.18,256.21 L288.41,257.30 L290.64,258.38 L292.87,259.45 L295.10,260.52 L297.33,261.57 L299.56,262.62 L301.79,263.66 L304.02,264.69 L306.25,265.72 L308.48,266.74 L310.71,267.75 L312.94,268.75 L315.17,269.74 L317.40,270.73 L319.63,271.71 L321.86,272.68 L324.09,273.65 L326.32,274.61 L328.55,275.56 L330.78,276.50 L333.01,277.44 L335.24,278.36 L337.48,279.29 L339.71,280.20 L341.94,281.11 L344.17,282.01 L346.40,282.91 L348.63,283.79 L350.86,284.68 L353.09,285.55 L355.32,286.42 L357.55,287.28 L359.78,288.13 L362.01,288.98 L364.24,289.82 L366.47,290.66 L368.70,291.49 L370.93,292.31 L373.16,293.24 L375.39,294.27 L377.62,295.30 L379.85,296.32 L382.08,297.33 L384.31,298.34 L386.54,299.34 L388.77,300.34 L391.00,301.12" stroke="#ffa500" stroke-width="1.35" stroke-dasharray="0.9,2.3"/>
</g>
<g fill="none">
<rect x="53.5" y="38.5" width="375.0" height="262.0" stroke="#1c1c1c" stroke-width="1.05"/>
<path d="M53.50,300.5v-7.5M53.50,38.5v7.5M64.21,300.5v-3.8M64.21,38.5v3.8M74.93,300.5v-3.8M74.93,38.5v3.8M85.64,300.5v-3.8M85.64,38.5v3.8M96.36,300.5v-3.8M96.36,38.5v3.8M107.07,300.5v-7.5M107.07,38.5v7.5M117.79,300.5v-3.8M117.79,38.5v3.8M128.50,300.5v-3.8M128.50,38.5v3.8M139.21,300.5v-3.8M139.21,38.5v3.8M149.93,300.5v-3.8M149.93,38.5v3.8M160.64,300.5v-7.5M160.64,38.5v7.5M171.36,300.5v-3.8M171.36,38.5v3.8M182.07,300.5v-3.8M182.07,38.5v3.8M192.79,300.5v-3.8M192.79,38.5v3.8M203.50,300.5v-3.8M203.50,38.5v3.8M214.21,300.5v-7.5M214.21,38.5v7.5M224.93,300.5v-3.8M224.93,38.5v3.8M235.64,300.5v-3.8M235.64,38.5v3.8M246.36,300.5v-3.8M246.36,38.5v3.8M257.07,300.5v-3.8M257.07,38.5v3.8M267.79,300.5v-7.5M267.79,38.5v7.5M278.50,300.5v-3.8M278.50,38.5v3.8M289.21,300.5v-3.8M289.21,38.5v3.8M299.93,300.5v-3.8M299.93,38.5v3.8M310.64,300.5v-3.8M310.64,38.5v3.8M321.36,300.5v-7.5M321.36,38.5v7.5M332.07,300.5v-3.8M332.07,38.5v3.8M342.79,300.5v-3.8M342.79,38.5v3.8M353.50,300.5v-3.8M353.50,38.5v3.8M364.21,300.5v-3.8M364.21,38.5v3.8M374.93,300.5v-7.5M374.93,38.5v7.5M385.64,300.5v-3.8M385.64,38.5v3.8M396.36,300.5v-3.8M396.36,38.5v3.8M407.07,300.5v-3.8M407.07,38.5v3.8M417.79,300.5v-3.8M417.79,38.5v3.8M428.50,300.5v-7.5M428.50,38.5v7.5M53.5,38.50h7.5M428.5,38.50h-7.5M53.5,54.88h3.8M428.5,54.88h-3.8M53.5,71.25h7.5M428.5,71.25h-7.5M53.5,87.62h3.8M428.5,87.62h-3.8M53.5,104.00h7.5M428.5,104.00h-7.5M53.5,120.38h3.8M428.5,120.38h-3.8M53.5,136.75h7.5M428.5,136.75h-7.5M53.5,153.12h3.8M428.5,153.12h-3.8M53.5,169.50h7.5M428.5,169.50h-7.5M53.5,185.88h3.8M428.5,185.88h-3.8M53.5,202.25h7.5M428.5,202.25h-7.5M53.5,218.62h3.8M428.5,218.62h-3.8M53.5,235.00h7.5M428.5,235.00h-7.5M53.5,251.38h3.8M428.5,251.38h-3.8M53.5,267.75h7.5M428.5,267.75h-7.5M53.5,284.12h3.8M428.5,284.12h-3.8M53.5,300.50h7.5M428.5,300.50h-7.5" stroke="#111" stroke-width="0.75"/>
</g>
<g font-family="Liberation Serif, serif" font-size="13" fill="#000" letter-spacing="-0.6">
<text transform="translate(53.70,312.9) scale(1.0,1)" text-anchor="middle">0</text>
<text transform="translate(107.27,312.9) scale(1.0,1)" text-anchor="middle">0.01</text>
<text transform="translate(160.84,312.9) scale(1.0,1)" text-anchor="middle">0.02</text>
<text transform="translate(214.41,312.9) scale(1.0,1)" text-anchor="middle">0.03</text>
<text transform="translate(267.99,312.9) scale(1.0,1)" text-anchor="middle">0.04</text>
<text transform="translate(321.56,312.9) scale(1.0,1)" text-anchor="middle">0.05</text>
<text transform="translate(375.13,312.9) scale(1.0,1)" text-anchor="middle">0.06</text>
<text transform="translate(428.70,312.9) scale(1.0,1)" text-anchor="middle">0.07</text>
<text transform="translate(49.8,42.70) scale(1.0,1)" text-anchor="end">0</text>
<text transform="translate(49.8,75.45) scale(1.0,1)" text-anchor="end">-0.002</text>
<text transform="translate(49.8,108.20) scale(1.0,1)" text-anchor="end">-0.004</text>
<text transform="translate(49.8,140.95) scale(1.0,1)" text-anchor="end">-0.006</text>
<text transform="translate(49.8,173.70) scale(1.0,1)" text-anchor="end">-0.008</text>
<text transform="translate(49.8,206.45) scale(1.0,1)" text-anchor="end">-0.01</text>
<text transform="translate(49.8,239.20) scale(1.0,1)" text-anchor="end">-0.012</text>
<text transform="translate(49.8,271.95) scale(1.0,1)" text-anchor="end">-0.014</text>
<text transform="translate(49.8,304.70) scale(1.0,1)" text-anchor="end">-0.016</text>
</g>
<g font-family="Liberation Serif, serif" font-size="14.3" fill="#000">
<text x="241.4" y="326.2" text-anchor="middle">Ω M<tspan font-size="11" dy="5.3">0</tspan></text>
<text transform="translate(12.6,170.7) rotate(-90)" text-anchor="middle" font-size="14.5">(M<tspan font-size="10.3" dy="5">ADM</tspan><tspan dy="-5"> - M</tspan><tspan font-size="10.3" dy="5">0</tspan><tspan dy="-5">) / M</tspan><tspan font-size="10.3" dy="5">0</tspan></text>
</g>
<rect x="334.5" y="0.0" width="161.8" height="218.4" fill="#fff" stroke="#1c1c1c" stroke-width="1.05"/>
<g font-family="Liberation Serif, serif" fill="#000">
<path d="M339.1,8.40H354.1" stroke="#bc8f8f" stroke-width="1.5" fill="none"/>
<text font-size="8.6" transform="translate(361.3,11.30) scale(0.96,1)">γ=1.8</text>
<text font-size="8.6" transform="translate(385.0,11.30) scale(0.96,1)">M/R=0.08</text>
<text font-size="8.6" transform="translate(424.1,11.30) scale(0.96,1)">corot.</text>
<path d="M339.1,19.66H354.1" stroke="#bc8f8f" stroke-width="1.5" fill="none" stroke-dasharray="6.8,4.3"/>
<text font-size="8.6" transform="translate(361.3,22.56) scale(0.96,1)">γ=1.8</text>
<text font-size="8.6" transform="translate(385.0,22.56) scale(0.96,1)">M/R=0.08</text>
<text font-size="8.6" transform="translate(424.1,22.56) scale(0.96,1)">irrot.</text>
<path d="M339.1,30.92H354.1" stroke="#c79be8" stroke-width="1.5" fill="none"/>
<text font-size="8.6" transform="translate(361.3,33.82) scale(0.96,1)">γ=1.8</text>
<text font-size="8.6" transform="translate(385.0,33.82) scale(0.96,1)">M/R=0.12</text>
<text font-size="8.6" transform="translate(421.2,33.82) scale(0.96,1)">corot.</text>
<path d="M339.1,42.18H354.1" stroke="#9400d3" stroke-width="1.5" fill="none"/>
<text font-size="8.6" transform="translate(361.3,45.08) scale(0.96,1)">γ=2</text>
<text font-size="8.6" transform="translate(378.3,45.08) scale(0.96,1)">M/R=0.12</text>
<text font-size="8.6" transform="translate(417.0,45.08) scale(0.96,1)">corot.</text>
<path d="M339.1,53.44H354.1" stroke="#9400d3" stroke-width="1.5" fill="none" stroke-dasharray="6.8,4.3"/>
<text font-size="8.6" transform="translate(361.3,56.34) scale(0.96,1)">γ=2</text>
<text font-size="8.6" transform="translate(378.3,56.34) scale(0.96,1)">M/R=0.12</text>
<text font-size="8.6" transform="translate(417.0,56.34) scale(0.96,1)">irrot.</text>
<path d="M339.1,64.70H354.1" stroke="#00ffff" stroke-width="1.5" fill="none"/>
<text font-size="8.6" transform="translate(361.3,67.60) scale(0.96,1)">γ=2</text>
<text font-size="8.6" transform="translate(378.3,67.60) scale(0.96,1)">M/R=0.16</text>
<text font-size="8.6" transform="translate(417.0,67.60) scale(0.96,1)">corot.</text>
<path d="M339.1,75.96H354.1" stroke="#00ffff" stroke-width="1.5" fill="none" stroke-dasharray="6.8,4.3"/>
<text font-size="8.6" transform="translate(361.3,78.86) scale(0.96,1)">γ=2</text>
<text font-size="8.6" transform="translate(378.3,78.86) scale(0.96,1)">M/R=0.16</text>
<text font-size="8.6" transform="translate(417.0,78.86) scale(0.96,1)">irrot.</text>
<path d="M339.1,87.22H354.1" stroke="#00ff00" stroke-width="1.5" fill="none"/>
<text font-size="8.6" transform="translate(361.3,90.12) scale(0.96,1)">γ=2</text>
<text font-size="8.6" transform="translate(378.3,90.12) scale(0.96,1)">M/R=0.18</text>
<text font-size="8.6" transform="translate(417.0,90.12) scale(0.96,1)">corot.</text>
<path d="M339.1,98.48H354.1" stroke="#00ff00" stroke-width="1.5" fill="none" stroke-dasharray="6.8,4.3"/>
<text font-size="8.6" transform="translate(361.3,101.38) scale(0.96,1)">γ=2</text>
<text font-size="8.6" transform="translate(378.3,101.38) scale(0.96,1)">M/R=0.18</text>
<text font-size="8.6" transform="translate(417.0,101.38) scale(0.96,1)">irrot.</text>
<path d="M339.1,109.74H354.1" stroke="#ff00ff" stroke-width="1.5" fill="none"/>
<text font-size="8.6" transform="translate(361.3,112.64) scale(0.96,1)">γ=2.5</text>
<text font-size="8.6" transform="translate(385.0,112.64) scale(0.96,1)">M/R=0.16</text>
<text font-size="8.6" transform="translate(424.1,112.64) scale(0.96,1)">corot.</text>
<path d="M339.1,121.00H354.1" stroke="#ff00ff" stroke-width="1.5" fill="none" stroke-dasharray="6.8,4.3"/>
<text font-size="8.6" transform="translate(361.3,123.90) scale(0.96,1)">γ=2.5</text>
<text font-size="8.6" transform="translate(385.0,123.90) scale(0.96,1)">M/R=0.16</text>
<text font-size="8.6" transform="translate(424.1,123.90) scale(0.96,1)">irrot.</text>
<path d="M339.1,132.26H354.1" stroke="#109010" stroke-width="1.5" fill="none"/>
<text font-size="8.6" transform="translate(361.3,135.16) scale(0.96,1)">γ=2.5</text>
<text font-size="8.6" transform="translate(385.0,135.16) scale(0.96,1)">M/R=0.18</text>
<text font-size="8.6" transform="translate(424.1,135.16) scale(0.96,1)">corot.</text>
<path d="M339.1,143.52H354.1" stroke="#109010" stroke-width="1.5" fill="none" stroke-dasharray="6.8,4.3"/>
<text font-size="8.6" transform="translate(361.3,146.42) scale(0.96,1)">γ=2.5</text>
<text font-size="8.6" transform="translate(385.0,146.42) scale(0.96,1)">M/R=0.18</text>
<text font-size="8.6" transform="translate(424.1,146.42) scale(0.96,1)">irrot.</text>
<path d="M339.1,154.78H354.1" stroke="#ff0000" stroke-width="1.5" fill="none"/>
<text font-size="8.6" transform="translate(361.3,157.68) scale(0.96,1)">γ=2.5</text>
<text font-size="8.6" transform="translate(385.0,157.68) scale(0.96,1)">M/R=0.20</text>
<text font-size="8.6" transform="translate(424.1,157.68) scale(0.96,1)">corot.</text>
<path d="M339.1,166.04H354.1" stroke="#ff0000" stroke-width="1.5" fill="none" stroke-dasharray="6.8,4.3"/>
<text font-size="8.6" transform="translate(361.3,168.94) scale(0.96,1)">γ=2.5</text>
<text font-size="8.6" transform="translate(385.0,168.94) scale(0.96,1)">M/R=0.20</text>
<text font-size="8.6" transform="translate(424.1,168.94) scale(0.96,1)">irrot.</text>
<path d="M339.1,177.30H354.1" stroke="#ffa500" stroke-width="1.0" fill="none"/>
<text font-size="8.7" transform="translate(361.2,180.20) scale(0.963,1)">3PN EOB corot. (Damour et al. 2002)</text>
<path d="M339.1,188.56H354.1" stroke="#ffa500" stroke-width="1.0" fill="none" stroke-dasharray="4,2.8"/>
<text font-size="8.7" transform="translate(361.2,191.46) scale(0.963,1)">3PN EOB irrot. (Damour et al. 2000)</text>
<path d="M339.1,199.82H354.1" stroke="#ffa500" stroke-width="1.0" fill="none" stroke-dasharray="4.3,2.2,0.8,2.2" stroke-dashoffset="6.5"/>
<text font-size="8.7" transform="translate(361.2,202.72) scale(0.963,1)">3PN non resum. corot. (Blanchet 2002)</text>
<path d="M339.1,211.08H354.1" stroke="#ffa500" stroke-width="1.0" fill="none" stroke-dasharray="0.9,2.3"/>
<text font-size="8.7" transform="translate(361.2,213.98) scale(0.963,1)">3PN non resum. irrot. (Blanchet 2002)</text>
</g>
</svg>
</body></html>
